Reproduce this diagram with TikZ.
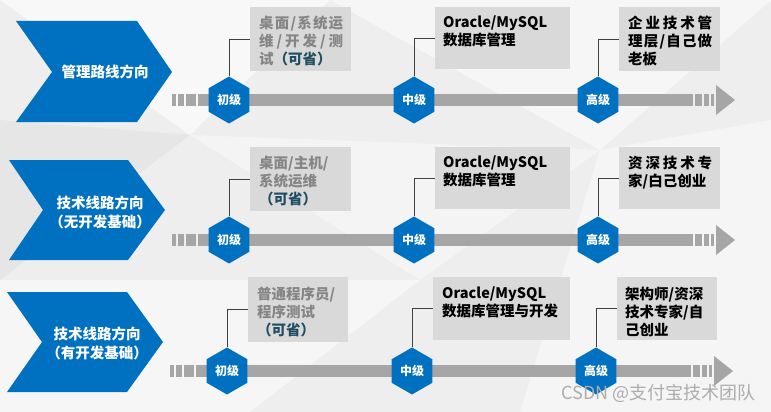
\documentclass[tikz,border=0pt]{standalone}
\usepackage{fontspec}
\setmainfont{Noto Sans CJK SC}
\usetikzlibrary{shapes.geometric}
\definecolor{pblue}{HTML}{0070C0}
\definecolor{bargray}{HTML}{A6A6A6}
\definecolor{boxgray}{HTML}{D9D9D9}
\definecolor{txtgray}{HTML}{858585}
\definecolor{kteal}{HTML}{1F4E63}
\definecolor{bgc}{HTML}{EEEEEE}
\newcommand\spreadline[2]{\makebox[#1][s]{#2}}
\newcommand\tlbar{%
  \fill[bargray] (172,-6) rectangle (176,6);
  \fill[bargray] (178,-6) rectangle (184,6);
  \fill[bargray] (186,-6) rectangle (196,6);
  \fill[bargray] (198,-6) rectangle (693,6);
  \fill[bargray] (695,-6) rectangle (702,6);
  \fill[bargray] (704,-6) rectangle (709,6);
  \fill[bargray] (711,-6) rectangle (714,6);
  \fill[bargray] (716,-15) -- (735,0) -- (716,15) -- cycle;
}
\tikzset{
  hexa/.style={regular polygon, regular polygon sides=6, shape border rotate=30,
    minimum size=47pt, inner sep=0pt, fill=pblue, text=white,
    font=\fontsize{12}{14}\selectfont\bfseries},
  infobox/.style={fill=boxgray, inner sep=0pt, anchor=north west},
  infotext/.style={anchor=north west, inner sep=0pt, align=left,
    font=\fontsize{14.5}{18}\selectfont\bfseries},
  chevtext/.style={text=white, align=center, font=\fontsize{14.5}{19}\selectfont\bfseries},
  link/.style={draw=black!75, line width=1pt},
  chev/.style={fill=pblue}
}
\begin{document}
\begin{tikzpicture}[x=1pt,y=-1pt]
\useasboundingbox (0,0) rectangle (771,412);
% background
\fill[bgc] (0,0) rectangle (771,412);
\fill[white,opacity=0.6] (0,0) -- (330,0) -- (190,135) -- cycle;
\fill[white,opacity=0.5] (330,0) -- (771,0) -- (600,150) -- cycle;
\fill[white,opacity=0.4] (190,135) -- (600,150) -- (420,280) -- cycle;
\fill[white,opacity=0.5] (0,280) -- (420,280) -- (250,412) -- (0,412) -- cycle;
\fill[white,opacity=0.45] (600,150) -- (771,120) -- (771,412) -- (520,412) -- cycle;
\fill[black,opacity=0.03] (0,120) -- (190,135) -- (0,280) -- cycle;

% chevrons
\fill[chev] (16,21) -- (137,21) -- (172,72) -- (137,122) -- (16,122) -- (52,72) -- cycle;
\node[chevtext] (c1) at (105,72) {管理路线方向};
\fill[chev] (9,160) -- (128,160) -- (165,210) -- (128,260) -- (9,260) -- (43,210) -- cycle;
\node[chevtext] (c2) at (100,212.5) {技术线路方向\\（无开发基础）};
\fill[chev] (7,292) -- (127,292) -- (163,342) -- (127,392) -- (7,392) -- (42,342) -- cycle;
\node[chevtext] (c3) at (97,343) {技术线路方向\\（有开发基础）};

% bars
\begin{scope}[shift={(0,100)}]\tlbar\end{scope}
\begin{scope}[shift={(0,240)}]\tlbar\end{scope}
\begin{scope}[shift={(-2,371)}]\tlbar\end{scope}

% ---------- row 1
\node[infobox, minimum width=101pt, minimum height=64pt] (b11) at (250,7) {};
\node[infobox, minimum width=135pt, minimum height=62pt] (b12) at (435,7) {};
\node[infobox, minimum width=101pt, minimum height=64pt] (b13) at (619,7) {};
\node[infotext, text=txtgray] (t11) at (259,16) {\spreadline{84pt}{桌\hfil 面\hfil /\hfil 系\hfil 统\hfil 运}\\\spreadline{84pt}{维\hfil /\hfil 开\hfil 发\hfil /\hfil 测}\\试\textcolor{kteal}{（可省）}};
\node[infotext] (t12) at (443,16) {Oracle/MySQL\\数据库管理};
\node[infotext] (t13) at (628,16) {\spreadline{84pt}{企\hfil 业\hfil 技\hfil 术\hfil 管}\\\spreadline{84pt}{理\hfil 层\hfil /\hfil 自\hfil 己\hfil 做}\\老板};
\node[hexa] (h11) at (229,100) {初级};
\node[hexa] (h12) at (414,100) {中级};
\node[hexa] (h13) at (598,100) {高级};
\draw[link] (h11.90) |- (b11.west);
\draw[link] (h12.90) |- (b12.west);
\draw[link] (h13.90) |- (b13.west);

% ---------- row 2
\node[infobox, minimum width=101pt, minimum height=64pt] (b21) at (250,147) {};
\node[infobox, minimum width=135pt, minimum height=62pt] (b22) at (435,147) {};
\node[infobox, minimum width=101pt, minimum height=62pt] (b23) at (619,147) {};
\node[infotext, text=txtgray] (t21) at (259,156) {桌面/主机/\\系统运维\\\textcolor{kteal}{（可省）}};
\node[infotext] (t22) at (443,156) {Oracle/MySQL\\数据库管理};
\node[infotext] (t23) at (628,156) {\spreadline{84pt}{资\hfil 深\hfil 技\hfil 术\hfil 专}\\家/白己创业};
\node[hexa] (h21) at (229,240) {初级};
\node[hexa] (h22) at (414,240) {中级};
\node[hexa] (h23) at (598,240) {高级};
\draw[link] (h21.90) |- (b21.west);
\draw[link] (h22.90) |- (b22.west);
\draw[link] (h23.90) |- (b23.west);

% ---------- row 3
\node[infobox, minimum width=100pt, minimum height=65pt] (b31) at (248,277) {};
\node[infobox, minimum width=137pt, minimum height=63pt] (b32) at (433,277) {};
\node[infobox, minimum width=100pt, minimum height=63pt] (b33) at (617,277) {};
\node[infotext, text=txtgray] (t31) at (257,287) {普通程序员/\\程序测试\\\textcolor{kteal}{（可省）}};
\node[infotext] (t32) at (442,287) {Oracle/MySQL\\数据库管理与开发};
\node[infotext] (t33) at (625,287) {架构师/资深\\技术专家/自\\己创业};
\node[hexa] (h31) at (227,371) {初级};
\node[hexa] (h32) at (412,371) {中级};
\node[hexa] (h33) at (596,371) {高级};
\draw[link] (h31.90) |- (b31.west);
\draw[link] (h32.90) |- (b32.west);
\draw[link] (h33.90) |- (b33.west);

% watermark
\node[anchor=east, inner sep=0pt, text=black!32, font=\fontsize{18}{18}\selectfont] (wm) at (756,393) {CSDN @支付宝技术团队};
\end{tikzpicture}
\end{document}
